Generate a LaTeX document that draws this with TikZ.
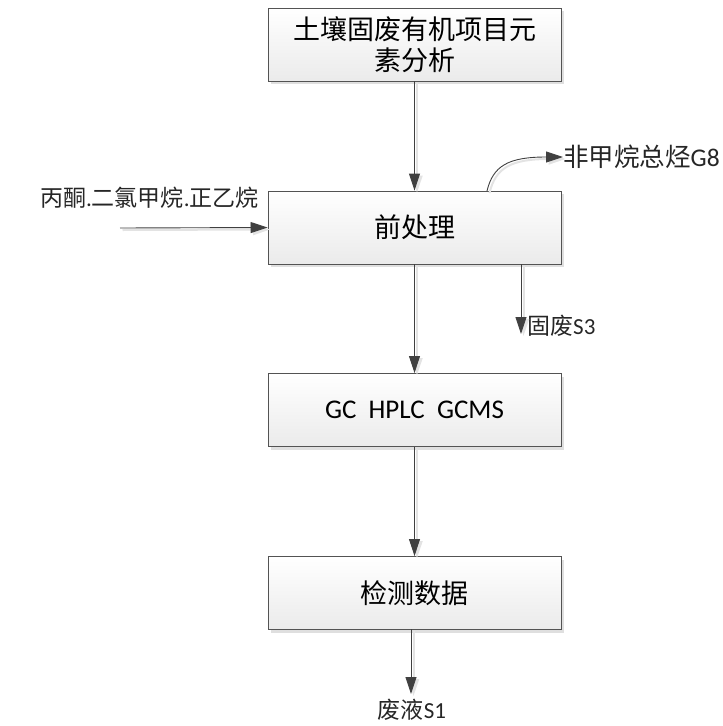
\documentclass[tikz,border=0pt]{standalone}
\usepackage{fontspec}
\setmainfont{Carlito}
\newfontfamily\cjk{Noto Sans CJK SC}
\usetikzlibrary{arrows.meta,shadows}
\definecolor{ln}{HTML}{404040}
\tikzset{
  procbox/.style={draw=ln!90, line width=0.9pt, rectangle, minimum width=293pt, minimum height=73pt,
    top color=white, bottom color=gray!16, align=center, inner sep=2pt,
    drop shadow={shadow xshift=3pt, shadow yshift=-3pt, fill=gray!25, opacity=1},
    font=\fontsize{27}{33}\selectfont},
  flow/.style={draw=ln, line width=0.9pt, -{Triangle[length=17pt,width=11pt]},
    preaction={draw=gray!22, line width=2pt, transform canvas={xshift=2.5pt, yshift=-2pt}}},
  lbl/.style={font=\fontsize{23}{27}\selectfont, inner sep=0pt, text=black!85}
}
\begin{document}
\begin{tikzpicture}[x=1pt,y=-1pt]
\useasboundingbox (0,0) rectangle (723,726);
\node[procbox] (b1) at (414.5,44.5) {{\cjk 土壤固废有机项目元}\\[-2pt]{\cjk 素分析}};
\node[procbox] (b2) at (414.5,227.5) {\cjk 前处理};
\node[procbox] (b3) at (414.5,410) {GC\ \ HPLC\ \ GCMS};
\node[procbox] (b4) at (414.5,593) {\cjk 检测数据};
% labels
\node[lbl, anchor=east] (lin) at (259,198) {{\cjk 丙酮}.{\cjk 二氯甲烷}.{\cjk 正乙烷}};
\node[lbl, anchor=west, font=\fontsize{25.5}{29}\selectfont] (lg8) at (563,157) {{\cjk 非甲烷总烃}G8};
\node[lbl, anchor=west] (ls3) at (527,326) {{\cjk 固废}S3};
\node[lbl] (ls1) at (412,710) {{\cjk 废液}S1};
\coordinate (inS) at (120,228);
\coordinate (g8S) at (487,191);
\coordinate (s3S) at (521,264);
\coordinate (s3E) at (521,334);
\coordinate (s1S) at (411,629);
\coordinate (s1E) at (411,694);
% arrows
\draw[flow] (b1.south) -- (b2.north);
\draw[flow] (b2.south) -- (b3.north);
\draw[flow] (b3.south) -- (b4.north);
\draw[flow] (inS) -- (b2.west);
\draw[flow] (g8S) .. controls (493,166) and (508,157) .. (lg8.west);
\draw[flow] (s3S) -- (s3E);
\draw[flow] (s1S) -- (s1E);
\end{tikzpicture}
\end{document}
